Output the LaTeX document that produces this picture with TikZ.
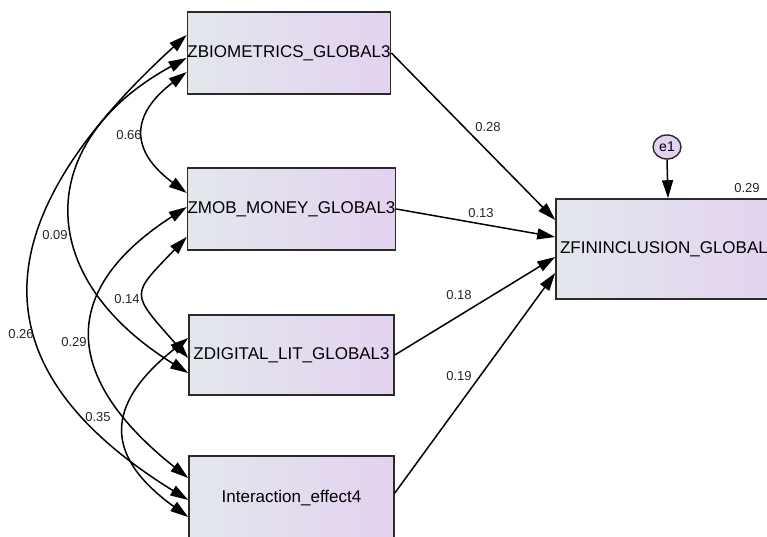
\documentclass[tikz,border=0pt]{standalone}
\usepackage{fontspec}
\setmainfont{Liberation Sans}
\usetikzlibrary{arrows.meta,shapes.geometric}

\definecolor{boxleft}{HTML}{E3E7EC}
\definecolor{boxright}{HTML}{E3D2F0}
\definecolor{frame}{HTML}{2A2A2A}

\begin{document}
\begin{tikzpicture}[x=1pt,y=-1pt,
  var/.style={draw=frame, line width=1.6pt, left color=boxleft, right color=boxright,
    inner sep=0pt, font=\fontsize{17}{19}\selectfont},
  errvar/.style={ellipse, draw=frame, line width=1.4pt, fill=boxright,
    minimum width=28pt, minimum height=24pt, inner sep=0pt, font=\fontsize{14}{15}\selectfont},
  path/.style={line width=1.5pt, -{Triangle[length=18pt,width=11pt]}},
  cov/.style={line width=1.5pt, {Triangle[length=18pt,width=11pt]}-{Triangle[length=18pt,width=11pt]}},
  est/.style={font=\fontsize{13}{14}\selectfont, text=black!85, inner sep=0pt}
]
\path[use as bounding box] (0,0) rectangle (767,537);
\clip (0,0) rectangle (767,537);
\fill[white] (0,0) rectangle (767,537);

% observed variables
\node[var, minimum width=200pt, minimum height=82pt] (bio) at (289,53) {ZBIOMETRICS\_GLOBAL3};
\node[var, minimum width=203pt, minimum height=82pt] (mob) at (291.5,209) {ZMOB\_MONEY\_GLOBAL3};
\node[var, minimum width=205pt, minimum height=80pt] (dig) at (291.5,355) {ZDIGITAL\_LIT\_GLOBAL3};
\node[var, minimum width=205pt, minimum height=84pt] (int) at (291.5,498) {Interaction\_effect4};
\node[var, minimum width=224pt, minimum height=100pt, text width=216pt, align=left] (fin) at (668,249) {ZFININCLUSION\_GLOBAL};

% error term
\node[errvar] (e1) at (667,147) {e1};
\draw[path] (e1.south) -- (fin.north);

% regression paths
\draw[path] (bio.east) -- ([yshift=29pt]fin.west);
\draw[path] (mob.east) -- ([yshift=12pt]fin.west);
\draw[path] (dig.east) -- ([yshift=-8pt]fin.west);
\draw[path] ([yshift=5pt]int.east) -- ([yshift=-24pt]fin.west);

% covariances
\draw[cov] ([yshift=18pt]bio.west) .. controls (-22,225) and (-22,370) .. ([yshift=-2pt]int.west);
\draw[cov] ([yshift=-5pt]bio.west) .. controls (36,140) and (30,275) .. ([yshift=-18pt]dig.west);
\draw[cov] ([yshift=-19pt]bio.west) .. controls (130,115) and (130,151) .. ([yshift=16pt]mob.west);
\draw[cov] ([yshift=2pt]mob.west) .. controls (60,289) and (60,376) .. ([yshift=20pt]int.west);
\draw[cov] ([yshift=-28pt]mob.west) .. controls (130,296) and (130,292) .. ([yshift=-3pt]dig.west);
\draw[cov] ([yshift=17pt]dig.west) .. controls (104,405) and (104,456) .. ([yshift=-19pt]int.west);

% estimates
\node[est] (w1) at (488,127) {0.28};
\node[est] (w2) at (481,213) {0.13};
\node[est] (w3) at (459,295) {0.18};
\node[est] (w4) at (459,376) {0.19};
\node[est] (r2) at (747,188) {0.29};
\node[est] (c1) at (129,135) {0.66};
\node[est] (c2) at (55,235) {0.09};
\node[est] (c3) at (127,299) {0.14};
\node[est] (c4) at (21,334) {0.26};
\node[est] (c5) at (74,342) {0.29};
\node[est] (c6) at (98,417) {0.35};
\end{tikzpicture}
\end{document}
